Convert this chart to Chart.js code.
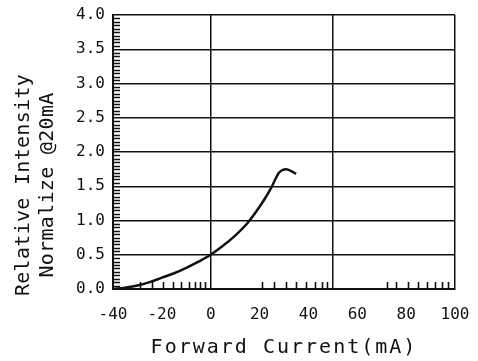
<!DOCTYPE html>
<html>
<head>
<meta charset="utf-8">
<script src="https://cdn.jsdelivr.net/npm/chart.js@4/dist/chart.umd.min.js"></script>
<style>
  html, body { margin: 0; padding: 0; background: #fff; }
  #wrap { width: 478px; height: 361px; }
</style>
</head>
<body>
<div id="wrap"><canvas id="c" width="478" height="361"></canvas></div>
<script>
// ---- data ----
const currentMA    = [-40, -35, -30, -25, -20, -15, -10, -5, 0, 5, 10, 15, 20, 22, 24, 25.5, 26.7, 28, 29.5, 31, 33, 35];
const relIntensity = [0.0, 0.02, 0.05, 0.10, 0.165, 0.23, 0.31, 0.40, 0.50, 0.63, 0.78, 0.96, 1.20, 1.31, 1.43, 1.53, 1.62, 1.70, 1.74, 1.75, 1.72, 1.68];

const xTickValues = [-40, -20, 0, 20, 40, 60, 80, 100];
const xTickLabels = ['-40', '-20', '0', '20', '40', '60', '80', '100'];
const xGridValues = [0, 50, 100];
const yTickLabels = ['0.0', '0.5', '1.0', '1.5', '2.0', '2.5', '3.0', '3.5', '4.0'];
const xMinorTicks = [-29, -24, -19.5, -15.3, -12, -9, -6.4, -4.4, -2.3,
                     21, 26, 31, 35, 39, 42.5, 45.5, 47.5,
                     72, 76, 80.7, 84.8, 88.5, 91.8, 94.7, 97.1];
const yMinorTicks = [];
for (let i = 1; i < 80; i++) { if (i % 10 !== 0) yMinorTicks.push(i * 0.05); }

const xTitle = 'Forward Current(mA)';
const yTitle = ['Relative Intensity', 'Normalize @20mA'];

const INK = '#111';
const MONO = "'DejaVu Sans Mono', 'Liberation Mono', monospace";

// inner minor tick marks, positioned through the chart's scales
const minorTicks = {
  id: 'minorTicks',
  afterDraw(chart) {
    const {ctx, chartArea: a, scales: {x, y}} = chart;
    ctx.save();
    ctx.strokeStyle = INK;
    ctx.lineWidth = 1.6;
    ctx.beginPath();
    for (const v of yMinorTicks) {
      const py = Math.round(y.getPixelForValue(v)) + 0.5;
      ctx.moveTo(a.left, py); ctx.lineTo(a.left + 7, py);
    }
    for (const v of xMinorTicks) {
      const px = Math.round(x.getPixelForValue(v)) + 0.5;
      ctx.moveTo(px, a.bottom); ctx.lineTo(px, a.bottom - 7);
    }
    ctx.stroke();
    ctx.restore();
  }
};

// letter spacing / offset for the axis titles (plotter-like lettering)
const titleStyle = { x: { spacing: '2px', dy: 0 }, y: { spacing: '0.3px', dy: 33 } };
const titleTweak = {
  id: 'titleTweak',
  beforeDraw(chart) {
    for (const id of Object.keys(titleStyle)) {
      const s = chart.scales[id];
      if (!s || s._tweaked || typeof s.drawTitle !== 'function') continue;
      const orig = s.drawTitle;
      const st = titleStyle[id];
      s.drawTitle = function () {
        const c = this.ctx;
        c.save();
        try { c.letterSpacing = st.spacing; } catch (e) {}
        c.translate(0, st.dy);
        orig.apply(this, arguments);
        c.restore();
      };
      s._tweaked = true;
    }
  }
};

new Chart(document.getElementById('c'), {
  type: 'line',
  data: {
    datasets: [{
      data: currentMA.map((v, i) => ({ x: v, y: relIntensity[i] })),
      borderColor: INK,
      borderWidth: 2.5,
      pointRadius: 0,
      cubicInterpolationMode: 'monotone',
      fill: false
    }]
  },
  options: {
    responsive: false,
    animation: false,
    events: [],
    layout: { padding: { left: 0, right: 23, top: 15, bottom: 0 } },
    plugins: { legend: { display: false }, tooltip: { enabled: false } },
    scales: {
      x: {
        type: 'linear',
        min: -40, max: 100,
        afterFit(scale) { scale.height = 72; },
        afterBuildTicks(scale) {
          const vals = Array.from(new Set(xTickValues.concat(xGridValues))).sort((a, b) => a - b);
          scale.ticks = vals.map(v => ({ value: v }));
        },
        ticks: {
          autoSkip: false, maxRotation: 0, minRotation: 0,
          padding: 6,
          color: INK,
          font: { family: MONO, size: 16, lineHeight: 2.5 },
          callback(value) {
            const i = xTickValues.indexOf(value);
            return i >= 0 ? xTickLabels[i] : '';
          }
        },
        grid: {
          drawTicks: false,
          lineWidth: 1.5,
          color(ctx) {
            return ctx.tick && xGridValues.includes(ctx.tick.value) ? INK : 'rgba(0,0,0,0)';
          }
        },
        border: { display: true, color: INK, width: 2 },
        title: {
          display: true, text: xTitle, color: INK,
          font: { family: MONO, size: 20, lineHeight: 1.2 },
          padding: { top: 0, bottom: 1.5 }
        }
      },
      y: {
        type: 'linear',
        min: 0, max: 4,
        afterFit(scale) { scale.width = 113; },
        ticks: {
          stepSize: 0.5, autoSkip: false,
          padding: 8,
          color: INK,
          font: { family: MONO, size: 16, lineHeight: 0.8 },
          callback(value, index) { return yTickLabels[index]; }
        },
        grid: { drawTicks: false, lineWidth: 1.5, color: INK },
        border: { display: true, color: INK, width: 2 },
        title: {
          display: true, text: yTitle, color: INK,
          font: { family: MONO, size: 20, lineHeight: 1.175 },
          padding: { top: 12.5, bottom: 0 }
        }
      }
    }
  },
  plugins: [minorTicks, titleTweak]
});
</script>
</body>
</html>
